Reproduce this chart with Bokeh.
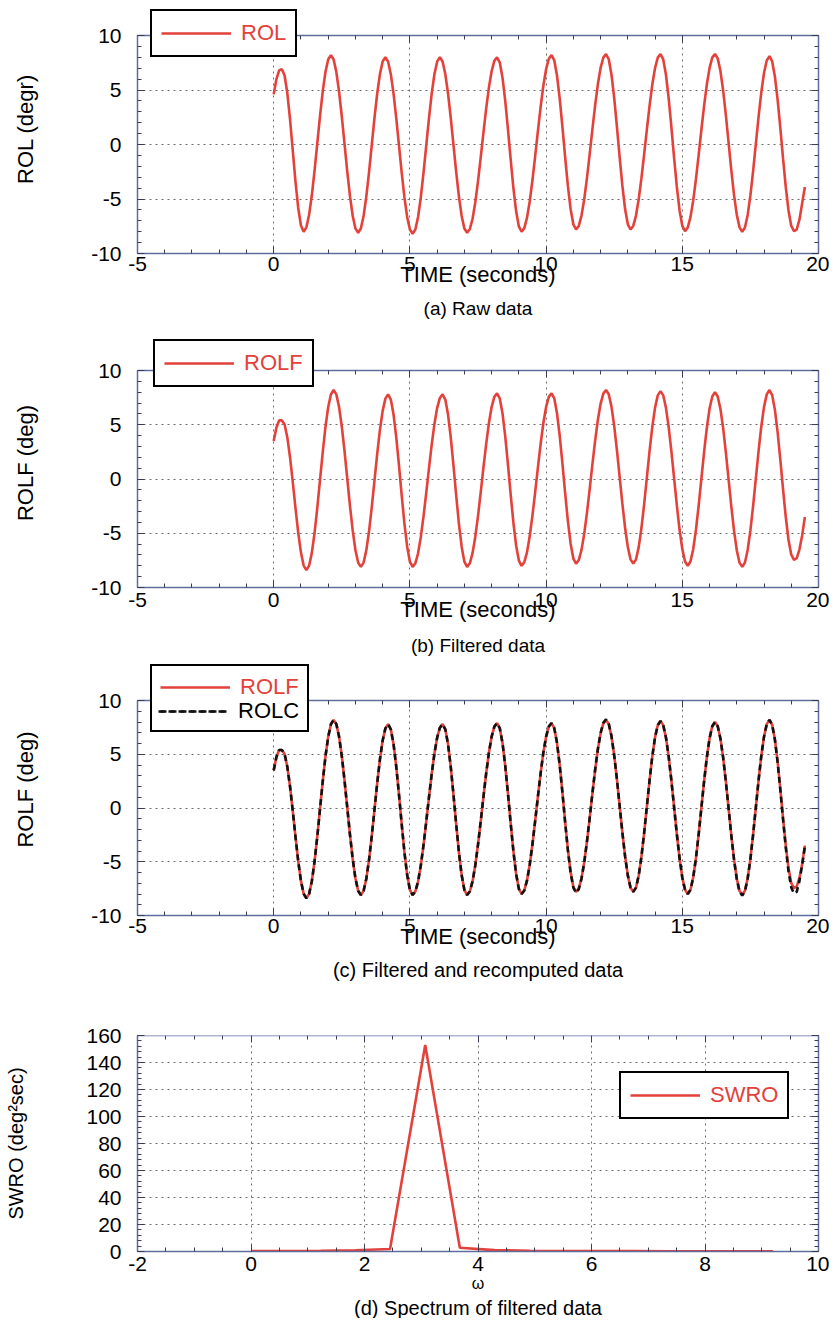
import numpy as np
from bokeh.plotting import figure
from bokeh.layouts import column
from bokeh.models import (Legend, LegendItem, LinearAxis, Title, SingleIntervalTicker,
                          Range1d, ColumnDataSource, CustomJSTickFormatter, BoxAnnotation)
from bokeh.embed import file_html
from bokeh.resources import INLINE

# ---------------- data ----------------
TIME_START = 0.0
TIME_STEP = 0.1

ROL = [
    4.6, 6.0, 6.8, 6.9,
    6.33, 4.72, 2.30, -0.55, -3.40, -5.82, -7.43, -8.0,
    -7.60, -6.45, -4.66, -2.40, 0.1, 2.60, 4.86, 6.65, 7.80, 8.2,
    7.80, 6.64, 4.84, 2.57, 0.05, -2.47, -4.74, -6.54, -7.70, -8.1,
    -7.71, -6.56, -4.78, -2.54, -0.05, 2.44, 4.68, 6.46, 7.61, 8.0,
    7.60, 6.45, 4.66, 2.40, -0.1, -2.60, -4.86, -6.65, -7.80, -8.2,
    -7.80, -6.65, -4.86, -2.60, -0.1, 2.40, 4.66, 6.45, 7.60, 8.0,
    7.61, 6.46, 4.68, 2.44, -0.05, -2.54, -4.78, -6.56, -7.71, -8.1,
    -7.77, -6.82, -5.32, -3.39, -1.19, 1.09, 3.29, 5.22, 6.72, 7.67, 8.0,
    7.52, 6.13, 4.0, 1.39, -1.39, -4.0, -6.13, -7.52, -8.0,
    -7.67, -6.71, -5.21, -3.26, -1.05, 1.25, 3.46, 5.41, 6.91, 7.87, 8.2,
    7.72, 6.33, 4.2, 1.59, -1.19, -3.8, -5.93, -7.32, -7.8,
    -7.47, -6.52, -5.02, -3.09, -0.89, 1.39, 3.59, 5.52, 7.02, 7.97, 8.3,
    7.82, 6.42, 4.28, 1.65, -1.15, -3.78, -5.92, -7.32, -7.8,
    -7.47, -6.52, -5.02, -3.09, -0.89, 1.39, 3.59, 5.52, 7.02, 7.97, 8.3,
    7.81, 6.40, 4.24, 1.59, -1.24, -3.89, -6.05, -7.46, -7.95,
    -7.62, -6.66, -5.15, -3.20, -0.98, 1.33, 3.55, 5.50, 7.01, 7.97, 8.3,
    7.90, 6.74, 4.94, 2.67, 0.15, -2.37, -4.64, -6.44, -7.60, -8.0,
    -7.61, -6.46, -4.68, -2.44, 0.05, 2.54, 4.78, 6.56, 7.71, 8.1,
    7.62, 6.22, 4.09, 1.47, -1.32, -3.94, -6.07, -7.47, -7.95,
    -7.8, -6.9, -5.4, -3.9,
]

ROLF = [
    3.5, 4.75, 5.4, 5.4,
    5.03, 3.83, 1.99, -0.27, -2.68, -4.94, -6.78, -7.98, -8.4,
    -7.99, -6.81, -4.98, -2.66, -0.1, 2.46, 4.78, 6.61, 7.79, 8.2,
    7.80, 6.64, 4.84, 2.57, 0.05, -2.47, -4.74, -6.54, -7.70, -8.1,
    -7.71, -6.58, -4.82, -2.61, -0.15, 2.31, 4.52, 6.28, 7.41, 7.8,
    7.32, 5.94, 3.83, 1.23, -1.53, -4.13, -6.24, -7.62, -8.1,
    -7.77, -6.84, -5.36, -3.45, -1.28, 0.98, 3.15, 5.06, 6.54, 7.47, 7.8,
    7.32, 5.94, 3.83, 1.23, -1.53, -4.13, -6.24, -7.62, -8.1,
    -7.77, -6.83, -5.34, -3.42, -1.24, 1.04, 3.22, 5.14, 6.63, 7.57, 7.9,
    7.42, 6.04, 3.93, 1.33, -1.43, -4.03, -6.14, -7.52, -8.0,
    -7.67, -6.74, -5.26, -3.35, -1.18, 1.08, 3.25, 5.16, 6.64, 7.57, 7.9,
    7.43, 6.06, 3.98, 1.42, -1.32, -3.88, -5.96, -7.33, -7.8,
    -7.47, -6.53, -5.04, -3.12, -0.94, 1.34, 3.52, 5.44, 6.93, 7.87, 8.2,
    7.81, 6.67, 4.90, 2.67, 0.2, -2.27, -4.50, -6.27, -7.41, -7.8,
    -7.41, -6.28, -4.52, -2.31, 0.15, 2.61, 4.82, 6.58, 7.71, 8.1,
    7.71, 6.56, 4.78, 2.54, 0.05, -2.44, -4.68, -6.46, -7.61, -8.0,
    -7.61, -6.47, -4.70, -2.47, 0.0, 2.47, 4.70, 6.47, 7.61, 8.0,
    7.61, 6.46, 4.68, 2.44, -0.05, -2.54, -4.78, -6.56, -7.71, -8.1,
    -7.70, -6.54, -4.74, -2.47, 0.05, 2.57, 4.84, 6.64, 7.80, 8.2,
    7.73, 6.37, 4.29, 1.74, -0.99, -3.54, -5.62, -6.98, -7.45,
    -7.3, -6.5, -5.2, -3.5,
]

ROLC = [
    3.5, 4.75, 5.4, 5.4,
    5.03, 3.83, 1.99, -0.27, -2.68, -4.94, -6.78, -7.98, -8.4,
    -7.99, -6.81, -4.98, -2.66, -0.1, 2.46, 4.78, 6.61, 7.79, 8.2,
    7.80, 6.64, 4.84, 2.57, 0.05, -2.47, -4.74, -6.54, -7.70, -8.1,
    -7.71, -6.58, -4.82, -2.61, -0.15, 2.31, 4.52, 6.28, 7.41, 7.8,
    7.32, 5.94, 3.83, 1.23, -1.53, -4.13, -6.24, -7.62, -8.1,
    -7.77, -6.84, -5.36, -3.45, -1.28, 0.98, 3.15, 5.06, 6.54, 7.47, 7.8,
    7.32, 5.94, 3.83, 1.23, -1.53, -4.13, -6.24, -7.62, -8.1,
    -7.77, -6.83, -5.34, -3.42, -1.24, 1.04, 3.22, 5.14, 6.63, 7.57, 7.9,
    7.42, 6.04, 3.93, 1.33, -1.43, -4.03, -6.14, -7.52, -8.0,
    -7.67, -6.74, -5.26, -3.35, -1.18, 1.08, 3.25, 5.16, 6.64, 7.57, 7.9,
    7.43, 6.06, 3.98, 1.42, -1.35, -3.93, -6.02, -7.40, -7.9,
    -7.55, -6.58, -5.07, -3.13, -0.94, 1.36, 3.56, 5.48, 6.98, 7.92, 8.25,
    7.84, 6.69, 4.90, 2.67, 0.2, -2.27, -4.50, -6.27, -7.41, -7.8,
    -7.41, -6.28, -4.52, -2.31, 0.15, 2.61, 4.82, 6.58, 7.71, 8.1,
    7.71, 6.56, 4.78, 2.54, 0.05, -2.44, -4.68, -6.46, -7.61, -8.0,
    -7.61, -6.47, -4.70, -2.47, 0.0, 2.47, 4.70, 6.47, 7.61, 8.0,
    7.61, 6.46, 4.68, 2.44, -0.05, -2.56, -4.82, -6.62, -7.78, -8.15,
    -7.74, -6.56, -4.75, -2.47, 0.05, 2.57, 4.84, 6.64, 7.80, 8.2,
    7.73, 6.35, 4.24, 1.64, -1.10, -3.70, -5.90, -7.40, -7.95,
    -7.8, -6.8, -5.3, -3.6,
]

OMEGA = [0.0, 0.61, 1.23, 1.84, 2.45, 3.07, 3.68, 4.29, 4.91, 5.52,
         6.14, 6.75, 7.36, 7.98, 8.59, 9.20]
SWRO = [0.3, 0.4, 0.5, 0.9, 1.8, 153.0, 2.8, 1.0, 0.6, 0.4,
        0.3, 0.3, 0.2, 0.2, 0.1, 0.1]

TIME = np.round(TIME_START + TIME_STEP * np.arange(len(ROL)), 2)

# ---------------- styling ----------------
FONT = "Liberation Sans"
RED = "#e3413a"
FRAME = "#5f6d9e"
TICK = "#3a3f55"
PLAIN = CustomJSTickFormatter(code="return tick.toString()")
BLANK = CustomJSTickFormatter(code="return ''")


def make_panel(top, frame_h, extra, bottom, xr, yr, xint, xminor, yint, yminor,
               ylabel, xlabel, caption, cap_size, xlabel_size="22px",
               xlabel_standoff=-12, xmaj_standoff=3, cap_standoff=11,
               ylab_standoff=50, tick_size="21px", ylabel_size="22px"):
    # the frame is 'extra' px taller than the axes box so that the legend
    # may stick out above the box (as in the reference)
    y0, y1 = yr
    ytop = y1 + (y1 - y0) * extra / frame_h
    p = figure(frame_width=681, frame_height=frame_h + extra,
               x_range=Range1d(*xr), y_range=Range1d(y0, ytop),
               min_border_left=137, min_border_right=11,
               min_border_top=top, min_border_bottom=bottom,
               output_backend="svg", toolbar_location=None,
               x_axis_label=xlabel, y_axis_label=ylabel)
    p.background_fill_color = "white"
    p.border_fill_color = "white"
    p.outline_line_color = None

    p.xaxis.ticker = SingleIntervalTicker(interval=xint, num_minor_ticks=xminor)
    p.yaxis.ticker = SingleIntervalTicker(interval=yint, num_minor_ticks=yminor)
    p.yaxis.bounds = (y0, y1)

    for ax in (p.xaxis[0], p.yaxis[0]):
        ax.formatter = PLAIN
        ax.major_tick_in = 7
        ax.major_tick_out = 0
        ax.minor_tick_in = 4
        ax.minor_tick_out = 0
        ax.axis_line_color = FRAME
        ax.axis_line_width = 1.5
        ax.major_tick_line_color = TICK
        ax.minor_tick_line_color = TICK
        ax.major_label_text_font = FONT
        ax.major_label_text_font_size = tick_size
        ax.major_label_text_color = "black"
        ax.axis_label_text_font = FONT
        ax.axis_label_text_font_style = "normal"
        ax.axis_label_text_color = "black"

    p.xaxis.major_label_standoff = xmaj_standoff
    p.xaxis.axis_label_text_font_size = xlabel_size
    p.xaxis.axis_label_standoff = xlabel_standoff
    p.yaxis.major_label_standoff = 16
    p.yaxis.axis_label_text_font_size = ylabel_size
    p.yaxis.axis_label_standoff = ylab_standoff

    p.grid.grid_line_color = "#555555"
    p.grid.grid_line_dash = "2 4"
    p.grid.grid_line_width = 1
    p.grid.grid_line_alpha = 0.85

    if extra > 0:
        # blank out the grid above the axes box
        p.add_layout(BoxAnnotation(bottom=y1, fill_color="white", fill_alpha=1.0,
                                   line_alpha=0, level="underlay"))

    common = dict(formatter=BLANK, major_label_standoff=0,
                  major_label_text_font_size="1px",
                  major_tick_in=7, major_tick_out=0,
                  minor_tick_in=4, minor_tick_out=0,
                  axis_line_color=FRAME, axis_line_width=1.5,
                  major_tick_line_color=TICK, minor_tick_line_color=TICK)
    p.add_layout(LinearAxis(ticker=SingleIntervalTicker(interval=xint, num_minor_ticks=xminor),
                            fixed_location=y1, **common), "above")
    p.add_layout(LinearAxis(ticker=SingleIntervalTicker(interval=yint, num_minor_ticks=yminor),
                            bounds=(y0, y1), **common), "right")

    p.add_layout(Title(text=caption, align="center", text_font=FONT,
                       text_font_size=cap_size, text_font_style="normal",
                       text_color="black", standoff=cap_standoff), "below")
    return p


def make_legend(items, loc, color, padding=9, border=True):
    return Legend(items=items, location=loc,
                  border_line_color="black" if border else None,
                  border_line_width=2, border_line_alpha=1.0,
                  background_fill_color="white",
                  background_fill_alpha=1.0 if border else 0.0,
                  padding=padding, spacing=0, margin=0,
                  glyph_width=70, glyph_height=22, label_height=22,
                  label_standoff=10, label_text_font=FONT,
                  label_text_font_size="22px", label_text_color=color)


src = ColumnDataSource(dict(t=TIME, rol=ROL, rolf=ROLF, rolc=ROLC))

# ---------------- (a) raw data ----------------
pa = make_panel(4, 218, 31, 74, (-5, 20), (-10, 10), 5, 5, 5, 5,
                "ROL (degr)", "TIME (seconds)", "(a) Raw data", "19px",
                cap_standoff=13)
ra = pa.line("t", "rol", source=src, line_color=RED, line_width=2.6)
pa.add_layout(make_legend([LegendItem(label="ROL", renderers=[ra])], (13, 196), RED))

# ---------------- (b) filtered data ----------------
pb = make_panel(11, 217, 32, 76, (-5, 20), (-10, 10), 5, 5, 5, 5,
                "ROLF (deg)", "TIME (seconds)", "(b) Filtered data", "19px",
                cap_standoff=16, xmaj_standoff=5, xlabel_standoff=-13)
rb = pb.line("t", "rolf", source=src, line_color=RED, line_width=2.6)
pb.add_layout(make_legend([LegendItem(label="ROLF", renderers=[rb])], (16, 200), RED))

# ---------------- (c) filtered and recomputed ----------------
pc = make_panel(0, 215, 37, 73, (-5, 20), (-10, 10), 5, 5, 5, 5,
                "ROLF (deg)", "TIME (seconds)", "(c) Filtered and recomputed data", "20px",
                cap_standoff=11)
rc1 = pc.line("t", "rolf", source=src, line_color=RED, line_width=2.6)
rc2 = pc.line("t", "rolc", source=src, line_color="#111111", line_width=2.6, line_dash="6 4")
pc.add_layout(make_legend([LegendItem(label="ROLF", renderers=[rc1]),
                           LegendItem(label=" ", renderers=[rc2])], (13, 183), RED,
                          padding=8))
pc.add_layout(make_legend([LegendItem(label="ROLC", renderers=[rc2])], (21, 191), "black",
                          padding=0, border=False))

# ---------------- (d) spectrum ----------------
pd_ = make_panel(47, 216, 0, 64, (-2, 10), (0, 160), 2, 4, 20, 5,
                 "SWRO (deg\u00b2sec)", "\u03c9", "(d) Spectrum of filtered data", "20px",
                 xlabel_size="16px", xlabel_standoff=1, xmaj_standoff=5, cap_standoff=0,
                 ylab_standoff=56, tick_size="21px", ylabel_size="20px")
sd = ColumnDataSource(dict(w=OMEGA, s=SWRO))
rd = pd_.line("w", "s", source=sd, line_color=RED, line_width=2.6)
pd_.add_layout(make_legend([LegendItem(label="SWRO", renderers=[rd])], (482, 132), RED))

layout = column(pa, pb, pc, pd_, spacing=0)
open("out.html", "w").write(file_html(layout, INLINE))
